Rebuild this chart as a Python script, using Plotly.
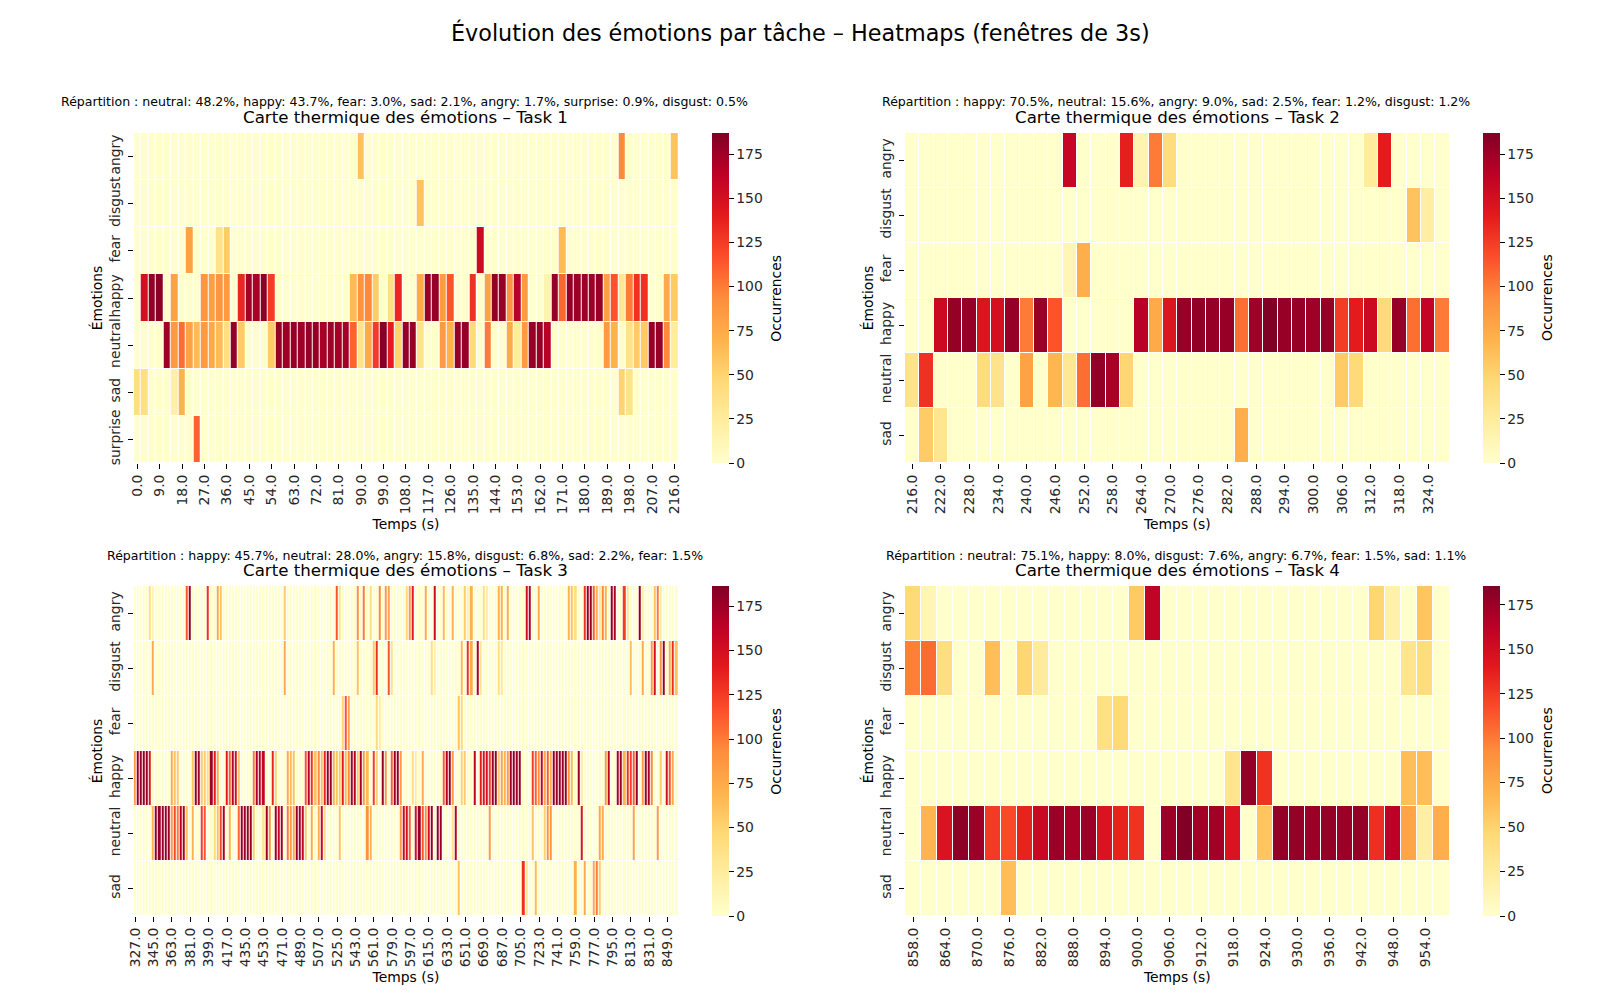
import plotly.graph_objects as go

# Sparse readings: column index -> occurrences (all other cells are 0)
T1_ROWS = ["angry", "disgust", "fear", "happy", "neutral", "sad", "surprise"]
T1_COLS = 73
T1_START = 0
T1_ZMAX = 187
T1_VALUES = {
    "angry": {30: 60, 65: 95, 72: 60},
    "disgust": {38: 60},
    "fear": {7: 80, 11: 35, 12: 55, 46: 155, 57: 65},
    "happy": {1: 150, 2: 180, 3: 182, 5: 80, 9: 88, 10: 82, 11: 88, 12: 85, 14: 135, 15: 172, 16: 170, 17: 182, 18: 125,
              29: 65, 30: 90, 31: 95, 32: 55, 34: 40, 35: 135, 38: 75, 39: 178, 40: 178, 41: 85, 42: 115, 45: 130,
              47: 80, 48: 180, 49: 178, 50: 90, 51: 165, 52: 85, 55: 15, 56: 178, 57: 108, 58: 178, 59: 175, 60: 175,
              61: 175, 62: 178, 63: 82, 64: 115, 65: 30, 66: 100, 67: 130, 68: 130, 71: 75, 72: 55},
    "neutral": {4: 175, 5: 85, 6: 105, 7: 80, 8: 65, 9: 85, 10: 75, 11: 65, 12: 40, 13: 180, 14: 55, 18: 55,
                19: 178, 20: 175, 21: 178, 22: 175, 23: 178, 24: 178, 25: 172, 26: 175, 27: 172, 28: 172, 29: 110,
                30: 35, 31: 75, 32: 125, 33: 185, 34: 140, 35: 50, 36: 178, 37: 178, 38: 35, 41: 85, 42: 70, 43: 178,
                44: 178, 45: 45, 47: 100, 50: 75, 51: 25, 52: 85, 53: 178, 54: 178, 55: 165, 63: 85, 64: 70, 66: 35,
                67: 55, 68: 55, 69: 178, 70: 178, 71: 95, 72: 25},
    "sad": {0: 40, 1: 40, 5: 20, 6: 70, 65: 50, 66: 35},
    "surprise": {8: 110},
}

T2_ROWS = ["angry", "disgust", "fear", "happy", "neutral", "sad"]
T2_COLS = 38
T2_START = 216
T2_ZMAX = 187
T2_VALUES = {
    "angry": {11: 158, 15: 138, 16: 15, 17: 100, 18: 42, 32: 25, 33: 140},
    "disgust": {35: 60, 36: 22},
    "fear": {11: 12, 12: 72},
    "happy": {2: 155, 3: 178, 4: 178, 5: 145, 6: 150, 7: 178, 8: 100, 9: 178, 10: 115, 16: 165, 17: 75, 18: 145,
              19: 178, 20: 180, 21: 178, 22: 178, 23: 105, 24: 175, 25: 187, 26: 178, 27: 178, 28: 175, 29: 178,
              30: 125, 31: 140, 32: 155, 33: 45, 34: 178, 35: 105, 36: 160, 37: 100},
    "neutral": {0: 35, 1: 130, 5: 42, 6: 35, 8: 80, 10: 68, 11: 30, 12: 105, 13: 180, 14: 172, 15: 48, 30: 55, 31: 45},
    "sad": {1: 55, 2: 33, 23: 72},
}

T3_ROWS = ["angry", "disgust", "fear", "happy", "neutral", "sad"]
T3_COLS = 178
T3_START = 327
T3_ZMAX = 186.5
T3_VALUES = {
    "angry": {5: 40, 6: 15, 17: 115, 18: 178, 24: 130, 27: 75, 28: 60, 49: 55, 66: 115, 67: 35, 73: 90, 75: 100,
              77: 40, 80: 95, 82: 85, 83: 80, 89: 45, 90: 85, 91: 140, 95: 75, 98: 155, 101: 65, 104: 70, 108: 55,
              109: 15, 110: 70, 114: 40, 115: 25, 119: 70, 120: 70, 122: 75, 128: 150, 129: 165, 132: 75, 142: 70,
              143: 60, 144: 40, 147: 130, 148: 180, 149: 180, 150: 110, 151: 70, 152: 30, 153: 95, 154: 70, 156: 178,
              157: 170, 160: 125, 161: 30, 165: 178, 166: 20, 170: 60, 171: 100, 172: 25},
    "disgust": {6: 75, 49: 75, 65: 70, 73: 60, 78: 55, 79: 130, 83: 115, 84: 35, 97: 40, 98: 20, 107: 65, 109: 130,
                110: 75, 112: 170, 113: 30, 119: 40, 120: 30, 162: 62, 166: 75, 169: 85, 170: 150, 172: 90, 173: 178,
                175: 75, 176: 130, 177: 60},
    "fear": {68: 50, 69: 115, 70: 80, 79: 45, 80: 25, 106: 60, 107: 45},
    "happy": {0: 85, 1: 178, 2: 178, 3: 178, 4: 178, 5: 145, 12: 75, 13: 60, 14: 55, 19: 60, 20: 178, 21: 170, 22: 55,
              23: 55, 24: 40, 25: 175, 26: 140, 27: 75, 30: 140, 31: 110, 32: 165, 33: 150, 34: 60, 39: 100, 40: 170,
              41: 165, 42: 160, 45: 135, 46: 50, 50: 75, 51: 65, 52: 60, 56: 115, 57: 165, 58: 130, 59: 60, 60: 95,
              61: 60, 62: 135, 63: 178, 64: 178, 65: 70, 66: 60, 67: 55, 68: 140, 69: 65, 70: 95, 71: 175, 72: 165,
              73: 55, 74: 175, 75: 85, 76: 65, 78: 125, 79: 50, 81: 178, 82: 85, 84: 110, 85: 178, 86: 178, 87: 85,
              91: 40, 92: 25, 94: 75, 101: 110, 102: 170, 103: 175, 104: 85, 107: 50, 108: 55, 111: 165, 113: 140,
              114: 145, 115: 150, 116: 125, 117: 178, 118: 178, 119: 55, 120: 80, 121: 70, 122: 85, 123: 175, 124: 178,
              125: 175, 126: 178, 130: 125, 131: 110, 132: 90, 133: 160, 134: 80, 135: 110, 136: 70, 137: 178, 138: 178,
              139: 178, 140: 178, 141: 178, 142: 90, 143: 65, 145: 175, 146: 25, 154: 85, 155: 160, 158: 170, 159: 178,
              160: 70, 161: 130, 162: 125, 163: 110, 164: 180, 166: 85, 167: 175, 168: 170, 169: 95, 172: 55, 174: 150,
              175: 115, 176: 75},
    "neutral": {6: 70, 7: 178, 8: 178, 9: 178, 10: 178, 11: 178, 12: 85, 13: 120, 14: 100, 15: 165, 16: 170, 17: 60,
                19: 70, 22: 125, 23: 115, 26: 45, 27: 60, 28: 120, 29: 170, 31: 70, 34: 110, 35: 178, 36: 178, 37: 175,
                38: 178, 39: 50, 42: 30, 43: 178, 44: 90, 46: 175, 47: 160, 48: 175, 50: 100, 51: 85, 52: 75, 53: 178,
                54: 175, 55: 160, 56: 55, 58: 75, 60: 70, 61: 160, 62: 40, 67: 60, 76: 90, 77: 70, 87: 85, 88: 155,
                89: 150, 90: 110, 92: 150, 93: 178, 94: 115, 95: 90, 96: 150, 97: 178, 99: 178, 100: 178, 104: 35,
                105: 165, 116: 85, 130: 60, 134: 50, 135: 90, 136: 90, 146: 145, 152: 78, 153: 75, 163: 80, 171: 85},
    "sad": {106: 60, 127: 130, 128: 30, 131: 65, 144: 70, 147: 75, 150: 75, 151: 100, 152: 55},
}

T4_ROWS = ["angry", "disgust", "fear", "happy", "neutral", "sad"]
T4_COLS = 34
T4_START = 858
T4_ZMAX = 185.5
T4_VALUES = {
    "angry": {0: 45, 1: 12, 14: 55, 15: 160, 29: 48, 30: 18, 32: 58},
    "disgust": {0: 98, 1: 105, 2: 40, 5: 62, 7: 48, 8: 25, 31: 33, 32: 42},
    "fear": {12: 38, 13: 45},
    "happy": {20: 33, 21: 178, 22: 128, 31: 62, 32: 62},
    "neutral": {1: 68, 2: 145, 3: 180, 4: 175, 5: 125, 6: 118, 7: 135, 8: 155, 9: 175, 10: 170, 11: 175, 12: 145,
                13: 135, 14: 128, 16: 175, 17: 185, 18: 172, 19: 172, 20: 145, 22: 58, 23: 178, 24: 178, 25: 175,
                26: 178, 27: 175, 28: 178, 29: 130, 30: 162, 31: 78, 32: 20, 33: 72},
    "sad": {6: 62},
}

TITLES = ["Carte thermique des émotions – Task 1", "Carte thermique des émotions – Task 2",
          "Carte thermique des émotions – Task 3", "Carte thermique des émotions – Task 4"]
SUBTITLES = ["Répartition : neutral: 48.2%, happy: 43.7%, fear: 3.0%, sad: 2.1%, angry: 1.7%, surprise: 0.9%, disgust: 0.5%",
             "Répartition : happy: 70.5%, neutral: 15.6%, angry: 9.0%, sad: 2.5%, fear: 1.2%, disgust: 1.2%",
             "Répartition : happy: 45.7%, neutral: 28.0%, angry: 15.8%, disgust: 6.8%, sad: 2.2%, fear: 1.5%",
             "Répartition : neutral: 75.1%, happy: 8.0%, disgust: 7.6%, angry: 6.7%, fear: 1.5%, sad: 1.1%"]
SUPTITLE = "Évolution des émotions par tâche – Heatmaps (fenêtres de 3s)"
CBAR_TICKS = [0, 25, 50, 75, 100, 125, 150, 175]
TICK_EVERY = [9, 6, 18, 6]
CBAR_LABEL = "Occurrences"

W, H = 1600, 1000
FONT = "DejaVu Sans"
INK = "#262626"
PANEL_W, PANEL_H = 544.5, 330
LEFTS = [133.7, 905]
TOPS = [133, 586]

panels = [
    (T1_ROWS, T1_COLS, T1_START, T1_ZMAX, T1_VALUES),
    (T2_ROWS, T2_COLS, T2_START, T2_ZMAX, T2_VALUES),
    (T3_ROWS, T3_COLS, T3_START, T3_ZMAX, T3_VALUES),
    (T4_ROWS, T4_COLS, T4_START, T4_ZMAX, T4_VALUES),
]

fig = go.Figure()
annotations = [dict(text=SUPTITLE, x=0.5, y=1 - 32 / H, xref="paper", yref="paper", showarrow=False,
                    xanchor="center", yanchor="middle", font=dict(size=22.3, family=FONT, color="black"))]
layout = {}
for i, (rows, ncols, start, zmax, values) in enumerate(panels):
    left = LEFTS[i % 2]
    top = TOPS[i // 2]
    times = [start + 3 * c for c in range(ncols)]
    z = [[values[r].get(c, 0) for c in range(ncols)] for r in rows]
    n = "" if i == 0 else str(i + 1)
    fig.add_trace(go.Heatmap(
        x=times, y=rows, z=z, zmin=0, zmax=zmax, colorscale="YlOrRd", xgap=1, ygap=1,
        xaxis="x" + n, yaxis="y" + n,
        colorbar=dict(
            x=(left + PANEL_W + 33.5) / W, xanchor="left", y=1 - (top + PANEL_H / 2) / H, yanchor="middle",
            len=PANEL_H / H, lenmode="fraction", thickness=16.5, thicknessmode="pixels",
            outlinewidth=0, xpad=0, ypad=0, tickmode="array", tickvals=CBAR_TICKS,
            ticks="outside", ticklen=5, tickwidth=1, tickcolor="black",
            tickfont=dict(size=13.9, family=FONT, color=INK),
        ),
    ))
    layout["xaxis" + n] = dict(
        domain=[left / W, (left + PANEL_W) / W], anchor="y" + n, range=[start - 1.5, times[-1] + 1.5],
        tickmode="linear", tick0=start, dtick=TICK_EVERY[i], tickformat=".1f", tickangle=-90,
        ticks="outside", ticklen=5, tickwidth=1, tickcolor="black", showgrid=False, zeroline=False, showline=False,
        tickfont=dict(size=13.9, family=FONT, color=INK),
        title=dict(text="Temps (s)", standoff=5, font=dict(size=13.9, family=FONT, color="black")),
    )
    layout["yaxis" + n] = dict(
        domain=[1 - (top + PANEL_H) / H, 1 - top / H], anchor="x" + n, type="category",
        categoryorder="array", categoryarray=rows, range=[len(rows) - 0.5, -0.5],
        tickangle=-90, ticks="outside", ticklen=5, tickwidth=1, tickcolor="black", ticklabelstandoff=2,
        showgrid=False, zeroline=False, showline=False,
        tickfont=dict(size=13.9, family=FONT, color=INK),
        title=dict(text="Émotions", standoff=1, font=dict(size=13.9, family=FONT, color="black")),
    )
    annotations.append(dict(text=TITLES[i], x=(left + PANEL_W / 2) / W, y=1 - (top - 15.5) / H, xref="paper", yref="paper",
                            showarrow=False, xanchor="center", yanchor="middle",
                            font=dict(size=16.67, family=FONT, color="black")))
    annotations.append(dict(text=SUBTITLES[i], x=(left + PANEL_W / 2 - 1) / W, y=1 - (top - 31) / H, xref="paper", yref="paper",
                            showarrow=False, xanchor="center", yanchor="middle",
                            font=dict(size=12.55, family=FONT, color="black")))
    annotations.append(dict(text=CBAR_LABEL, x=(left + PANEL_W + 97.5) / W, y=1 - (top + PANEL_H / 2) / H, xref="paper", yref="paper",
                            showarrow=False, xanchor="center", yanchor="middle", textangle=-90,
                            font=dict(size=13.9, family=FONT, color="black")))

fig.update_layout(width=W, height=H, margin=dict(l=0, r=0, t=0, b=0, autoexpand=False),
                  paper_bgcolor="white", plot_bgcolor="white",
                  annotations=annotations, **layout)
fig.write_html("out.html", config={"displayModeBar": False}, post_script="document.body.style.margin='0';")
